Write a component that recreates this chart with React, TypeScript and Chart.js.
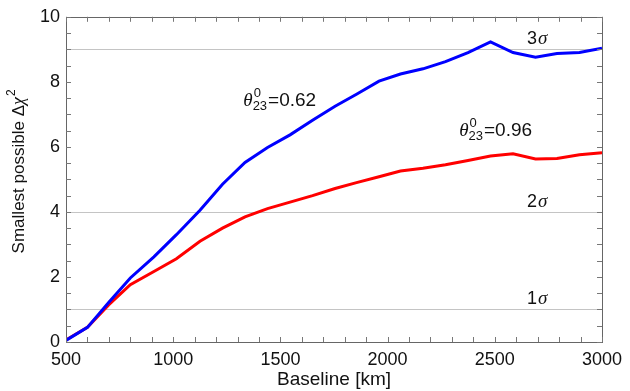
import React, { useEffect, useRef } from "react";
import { Chart, registerables } from "chart.js";

Chart.register(...registerables);

const baselineKm = [500, 600, 700, 800, 910, 1015, 1125, 1230, 1335, 1440, 1545, 1650, 1755, 1855, 1960, 2060, 2165, 2270, 2375, 2480, 2585, 2690, 2790, 2895, 3000];
const chi2Theta062 = [0.05, 0.45, 1.22, 1.97, 2.62, 3.3, 4.05, 4.85, 5.52, 5.98, 6.37, 6.82, 7.25, 7.62, 8.02, 8.24, 8.4, 8.62, 8.9, 9.23, 8.9, 8.76, 8.87, 8.9, 9.03];
const chi2Theta096 = [0.06, 0.45, 1.15, 1.76, 2.17, 2.56, 3.1, 3.5, 3.85, 4.1, 4.3, 4.5, 4.72, 4.9, 5.08, 5.26, 5.34, 5.45, 5.58, 5.72, 5.79, 5.63, 5.64, 5.76, 5.82];
const sigmaLevels = [1, 4, 9];
const sigmaLabels = ["1", "2", "3"];
const xTicks = [500, 1000, 1500, 2000, 2500, 3000];
const yTicks = [0, 2, 4, 6, 8, 10];
const curveLabels = [
  { value: "0.62", x: 1327, y: 7.26 },
  { value: "0.96", x: 2334, y: 6.32 },
];

const FONT = "'Liberation Sans', Arial, Helvetica, sans-serif";
const SERIF = "'Liberation Serif', 'DejaVu Serif', serif";

const decorPlugin = {
  id: "decor",
  beforeDatasetsDraw(chart: any) {
    const { ctx, chartArea: a, scales } = chart;
    ctx.save();
    ctx.strokeStyle = "#c4c4c4";
    ctx.lineWidth = 1;
    sigmaLevels.forEach((lv) => {
      const y = Math.round(scales.y.getPixelForValue(lv)) + 0.5;
      ctx.beginPath();
      ctx.moveTo(a.left, y);
      ctx.lineTo(a.right, y);
      ctx.stroke();
    });
    ctx.restore();
  },
  afterDatasetsDraw(chart: any) {
    const { ctx, chartArea: a, scales } = chart;
    const xs = scales.x;
    const ys = scales.y;
    ctx.save();
    ctx.strokeStyle = "#666";
    ctx.lineWidth = 1;
    ctx.strokeRect(Math.round(a.left) + 0.5, Math.round(a.top) + 0.5, Math.round(a.right - a.left), Math.round(a.bottom - a.top));
    ctx.strokeStyle = "#777";
    const tl = 5;
    for (let v = 500; v <= 3000; v += 100) {
      const x = Math.round(xs.getPixelForValue(v)) + 0.5;
      ctx.beginPath();
      ctx.moveTo(x, a.bottom);
      ctx.lineTo(x, a.bottom - tl);
      ctx.moveTo(x, a.top);
      ctx.lineTo(x, a.top + tl);
      ctx.stroke();
    }
    for (let v = 0; v <= 10; v += 0.5) {
      const y = Math.round(ys.getPixelForValue(v)) + 0.5;
      ctx.beginPath();
      ctx.moveTo(a.left, y);
      ctx.lineTo(a.left + tl, y);
      ctx.moveTo(a.right, y);
      ctx.lineTo(a.right - tl, y);
      ctx.stroke();
    }
    ctx.fillStyle = "#111";
    ctx.textBaseline = "alphabetic";
    ctx.textAlign = "left";
    sigmaLevels.forEach((lv, i) => {
      const x = xs.getPixelForValue(2650);
      const y = ys.getPixelForValue(lv) - 5;
      ctx.font = `18px ${FONT}`;
      ctx.fillText(sigmaLabels[i], x, y);
      const w = ctx.measureText(sigmaLabels[i]).width;
      ctx.font = `italic 19px ${SERIF}`;
      ctx.fillText("σ", x + w + 1, y);
    });
    curveLabels.forEach((c) => {
      let x = xs.getPixelForValue(c.x);
      const y = ys.getPixelForValue(c.y);
      ctx.font = `italic 19px ${SERIF}`;
      ctx.fillText("θ", x, y);
      x += ctx.measureText("θ").width;
      ctx.font = `13px ${FONT}`;
      ctx.fillText("0", x + 1, y - 9);
      ctx.fillText("23", x, y + 4);
      x += ctx.measureText("23").width + 1;
      ctx.font = `19px ${FONT}`;
      ctx.fillText("=" + c.value, x, y);
    });
    ctx.translate(24, (a.top + a.bottom) / 2 - 8);
    ctx.rotate(-Math.PI / 2);
    const p1 = "Smallest possible Δ";
    ctx.font = `17px ${FONT}`;
    const w1 = ctx.measureText(p1).width;
    ctx.font = `italic 18px ${SERIF}`;
    const w2 = ctx.measureText("χ").width;
    ctx.font = `12px ${FONT}`;
    const w3 = ctx.measureText("2").width;
    let tx = -(w1 + w2 + w3 + 1) / 2;
    ctx.font = `17px ${FONT}`;
    ctx.fillText(p1, tx, 0);
    tx += w1;
    ctx.font = `italic 18px ${SERIF}`;
    ctx.fillText("χ", tx, 0);
    tx += w2 + 1;
    ctx.font = `12px ${FONT}`;
    ctx.fillText("2", tx, -9);
    ctx.restore();
  },
};

export default function App() {
  const ref = useRef<HTMLCanvasElement | null>(null);
  useEffect(() => {
    if (!ref.current) return;
    const chart = new Chart(ref.current, {
      type: "scatter",
      data: {
        datasets: [
          {
            label: "θ23=0.62",
            data: baselineKm.map((x, i) => ({ x, y: chi2Theta062[i] })),
            showLine: true,
            borderColor: "#0000ff",
            borderWidth: 3,
            pointRadius: 0,
            fill: false,
          },
          {
            label: "θ23=0.96",
            data: baselineKm.map((x, i) => ({ x, y: chi2Theta096[i] })),
            showLine: true,
            borderColor: "#ff0000",
            borderWidth: 3,
            pointRadius: 0,
            fill: false,
          },
        ],
      },
      options: {
        animation: false,
        responsive: false,
        maintainAspectRatio: false,
        layout: { padding: { top: 12, right: 28, left: 0, bottom: 0 } },
        plugins: { legend: { display: false }, tooltip: { enabled: false } },
        scales: {
          x: {
            type: "linear",
            min: 500,
            max: 3000,
            afterBuildTicks: (s: any) => {
              s.ticks = xTicks.map((v) => ({ value: v }));
            },
            grid: { display: false, drawTicks: false },
            border: { display: false },
            ticks: {
              color: "#111",
              font: { family: FONT, size: 18 },
              padding: 7,
              maxRotation: 0,
              autoSkip: false,
              callback: (v: any) => String(v),
            },
            title: { display: true, text: "Baseline [km]", color: "#111", font: { family: FONT, size: 19 }, padding: { top: 0, bottom: 0 } },
            afterFit: (s: any) => {
              s.height = 49;
            },
          },
          y: {
            type: "linear",
            min: 0,
            max: 10,
            afterBuildTicks: (s: any) => {
              s.ticks = yTicks.map((v) => ({ value: v }));
            },
            grid: { display: false, drawTicks: false },
            border: { display: false },
            ticks: { color: "#111", font: { family: FONT, size: 18 }, padding: 6, callback: (v: any) => String(v) },
            afterFit: (s: any) => {
              s.width = 66;
            },
          },
        },
      },
      plugins: [decorPlugin],
    });
    return () => chart.destroy();
  }, []);
  return (
    <div style={{ position: "absolute", left: 0, top: 0, width: 630, height: 391 }}>
      <canvas ref={ref} width={630} height={391} style={{ width: 630, height: 391 }} />
    </div>
  );
}
